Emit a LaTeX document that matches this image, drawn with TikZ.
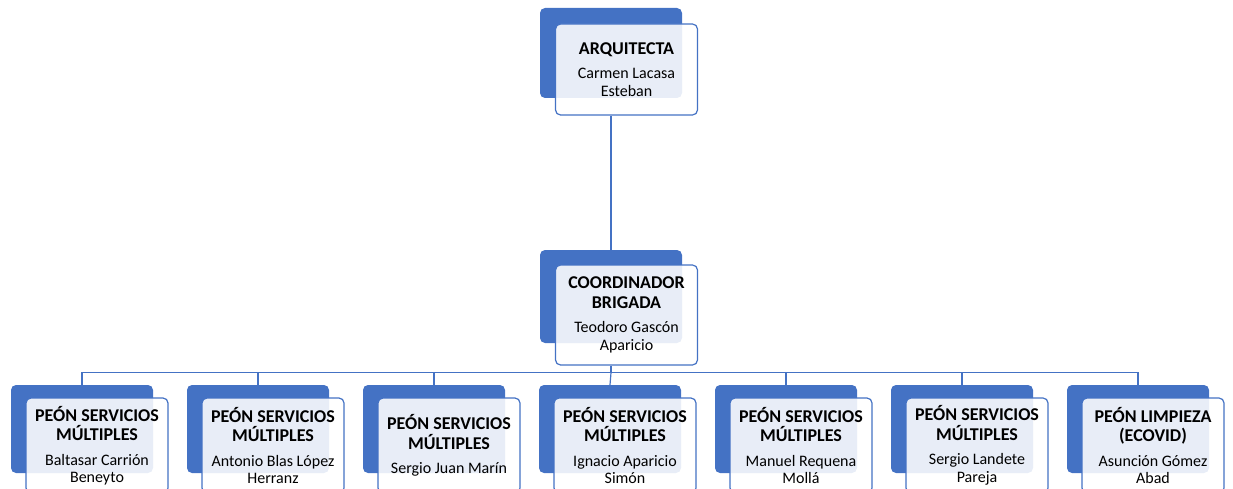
\documentclass[tikz,border=0pt]{standalone}
\usepackage{fontspec}
\setmainfont{Carlito}
\usepackage{tikz}
\definecolor{ofblue}{RGB}{68,114,196}
\newcommand{\ttl}{\fontsize{18}{19.5}\selectfont\bfseries}

\begin{document}
\begin{tikzpicture}[x=1pt,y=-1pt,
  back/.style={fill=ofblue, rounded corners=5pt, minimum width=142pt, minimum height=88pt, inner sep=0pt},
  front/.style={draw=ofblue, line width=1.2pt, fill=white, fill opacity=0.88, text opacity=1,
    rounded corners=5pt, minimum width=142pt, minimum height=95pt, inner sep=0pt,
    text width=140pt, align=flush center, font=\fontsize{16}{17.5}\selectfont},
  link/.style={draw=ofblue, line width=1.2pt}]
\useasboundingbox (0,0) rectangle (1233,489);

% arquitecta
\node[back, minimum height=90pt] (arqb) at (611,53) {};
\node[front, minimum height=91pt] (arq) at (626.5,69.5) {{\ttl ARQUITECTA\par}\vspace{7pt}Carmen Lacasa\\Esteban};

% coordinador
\node[back, minimum height=93pt] (coordb) at (611,296.5) {};
\node[front, minimum height=100pt] (coord) at (626.5,315) {{\ttl COORDINADOR\\BRIGADA\par}\vspace{7pt}Teodoro Gascón\\Aparicio};

% peones
\node[back] (p1b) at (82,429) {};
\node[front] (p1) at (97,445.5) {{\ttl PEÓN SERVICIOS\\MÚLTIPLES\par}\vspace{7pt}Baltasar Carrión\\Beneyto};
\node[back] (p2b) at (258,429) {};
\node[front] (p2) at (273,445.5) {{\ttl PEÓN SERVICIOS\\MÚLTIPLES\par}\vspace{7pt}Antonio Blas López\\Herranz};
\node[back] (p3b) at (434,429) {};
\node[front] (p3) at (449,445.5) {{\ttl PEÓN SERVICIOS\\MÚLTIPLES\par}\vspace{7pt}Sergio Juan Marín};
\node[back] (p4b) at (610,429) {};
\node[front] (p4) at (625,445.5) {{\ttl PEÓN SERVICIOS\\MÚLTIPLES\par}\vspace{7pt}Ignacio Aparicio\\Simón};
\node[back] (p5b) at (786,429) {};
\node[front] (p5) at (801,445.5) {{\ttl PEÓN SERVICIOS\\MÚLTIPLES\par}\vspace{7pt}Manuel Requena\\Mollá};
\node[back] (p6b) at (962,429) {};
\node[front] (p6) at (977,445.5) {{\ttl PEÓN SERVICIOS\\MÚLTIPLES\par}\vspace{7pt}Sergio Landete\\Pareja};
\node[back] (p7b) at (1138,429) {};
\node[front] (p7) at (1153,445.5) {{\ttl PEÓN LIMPIEZA\\(ECOVID)\par}\vspace{7pt}Asunción Gómez\\Abad};

% lineas
\draw[link] (arq.south -| arqb.center) -- (coordb.north);
\draw[link] (coord.south -| coordb.center) -- ++(0,7) coordinate (bus);
\draw[link] (bus) -| (p1b.north);
\draw[link] (bus) -| (p2b.north);
\draw[link] (bus) -| (p3b.north);
\draw[link] (bus) -- (p4b.north);
\draw[link] (bus) -| (p5b.north);
\draw[link] (bus) -| (p6b.north);
\draw[link] (bus) -| (p7b.north);
\end{tikzpicture}
\end{document}
